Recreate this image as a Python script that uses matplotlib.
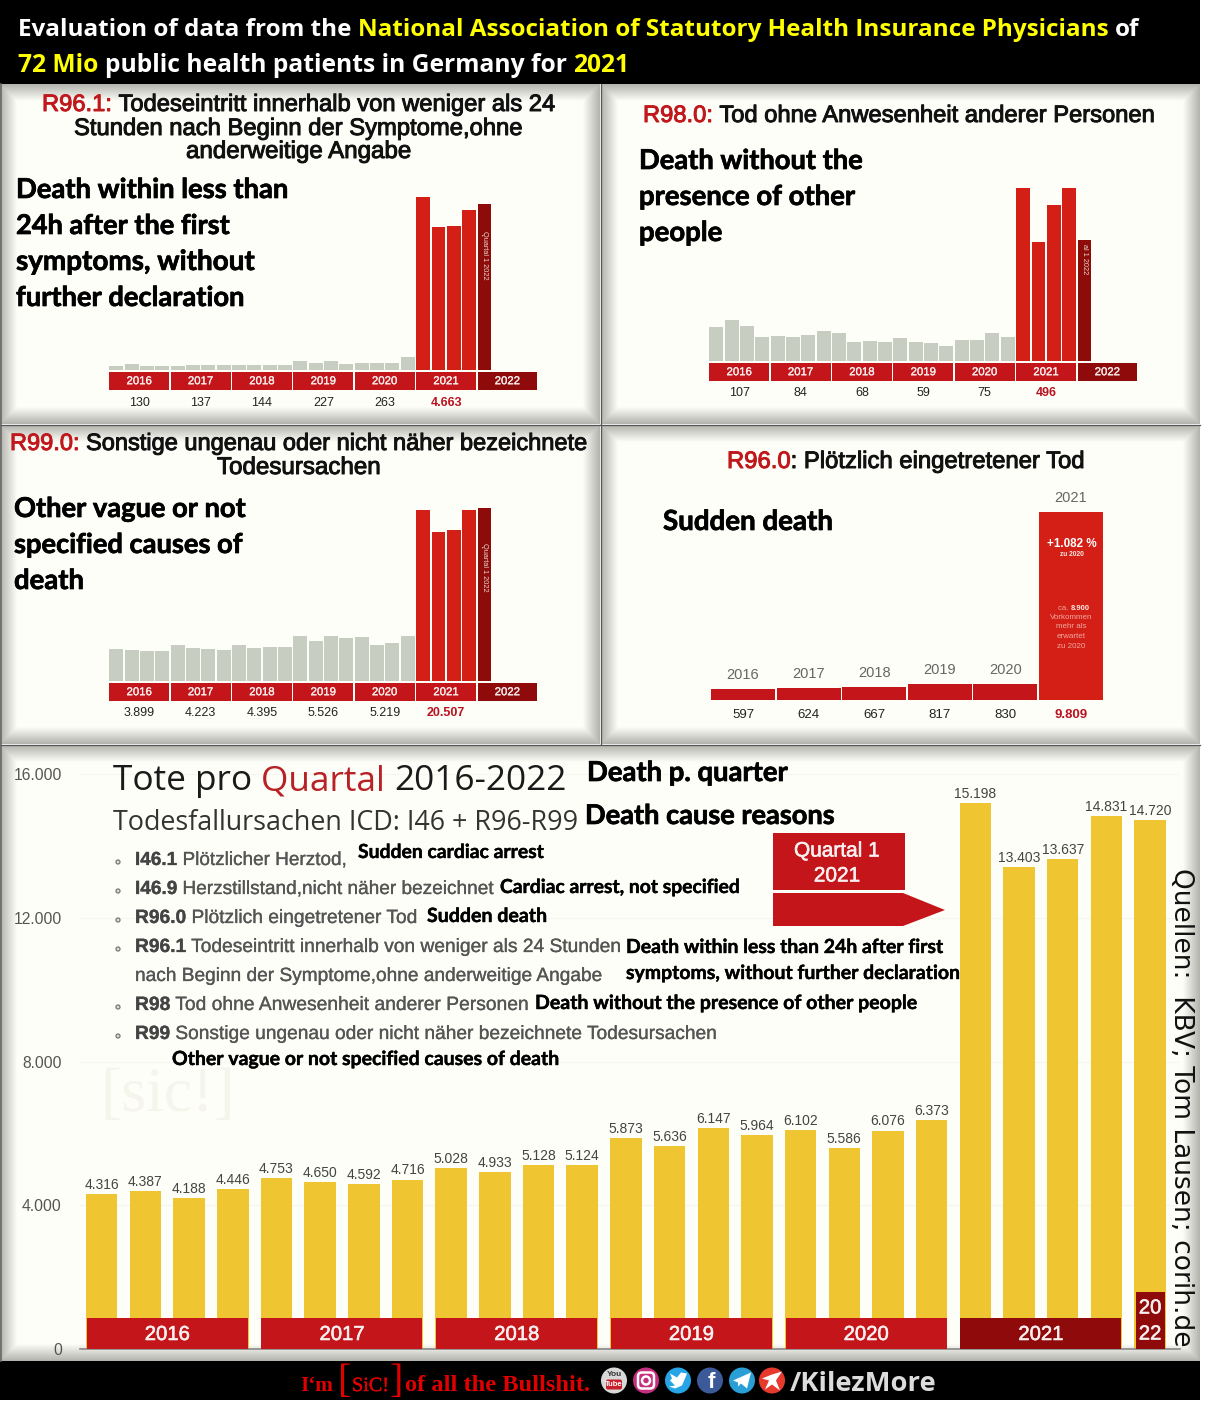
import matplotlib
matplotlib.use('Agg')
import matplotlib.pyplot as plt
from matplotlib.patches import Rectangle, Circle, Polygon, FancyBboxPatch
from matplotlib.ticker import FixedFormatter, FixedLocator
import matplotlib.patheffects as pe
import numpy as np

W, H = 1208, 1408

# quarterly bars of the small panels, yearly sums fit the labels
years = ['2016', '2017', '2018', '2019', '2020', '2021', '2022']

r961_q = [33, 42, 28, 27, 27, 40, 35, 35, 38, 35, 37, 34, 65, 50, 67, 45, 54, 55, 54, 100,
          1301, 1075, 1086, 1201, 1251]
r961_sum = ['130', '137', '144', '227', '263', '4.663']

r980_q = [27, 33, 28, 19, 20, 19, 21, 24, 22, 15, 16, 15, 18, 15, 14, 12, 17, 17, 22, 19,
          138, 95, 125, 138, 97]
r980_sum = ['107', '84', '68', '59', '75', '496']

r990_q = [1007, 986, 943, 963, 1145, 1060, 1030, 988, 1147, 1062, 1093, 1093,
          1437, 1276, 1446, 1367, 1400, 1150, 1225, 1444, 5462, 4760, 4824, 5461, 5504]
r990_sum = ['3.899', '4.223', '4.395', '5.526', '5.219', '20.507']

# R96.0 yearly
r960_years = ['2016', '2017', '2018', '2019', '2020', '2021']
r960_vals = [597, 624, 667, 817, 830, 9809]
r960_lab = ['597', '624', '667', '817', '830', '9.809']

# big chart
tote = [4316, 4387, 4188, 4446, 4753, 4650, 4592, 4716, 5028, 4933, 5128, 5124,
        5873, 5636, 6147, 5964, 6102, 5586, 6076, 6373, 15198, 13403, 13637, 14831, 14720]
tote_ticks = [0, 4000, 8000, 12000, 16000]
tote_ticklabels = ['0', '4.000', '8.000', '12.000', '16.000']

RED = '#c4161a'
DARK = '#8f0a0a'
BAR_RED = '#d41f16'
BAR_DARK = '#8d0b08'
GRAY = '#c8cdc2'
YEL = '#efc631'
BG = '#fdfef7'
SANS = 'Liberation Sans'
OPEN = 'Open Sans'
EN = 'Lato'

fig = plt.figure(figsize=(W / 100, H / 100), dpi=100, facecolor='white')
bg = fig.add_axes([0, 0, 1, 1], zorder=0)


def vignette(x0, y0, x1, y1, depth=17):
    w, h = int(x1 - x0), int(y1 - y0)
    xx, yy = np.meshgrid(np.arange(w) + .5, np.arange(h) + .5)
    d = np.minimum.reduce([xx, w - xx, yy, h - yy])
    t = np.clip(d / depth, 0, 1)[..., None]
    edge = np.array([0.70, 0.70, 0.68])
    inner = np.array(matplotlib.colors.to_rgb(BG))
    bg.imshow(edge * (1 - t) + inner * t, extent=(x0, x1, y1, y0), aspect='auto', interpolation='bilinear')


for box in [(0, 84, 600, 424), (601, 84, 1200, 424), (0, 425, 600, 744), (601, 425, 1200, 744), (0, 745, 1200, 1361)]:
    vignette(*box)
bg.add_patch(Rectangle((0, 0), 1200, 84, fc='black', lw=0))
bg.add_patch(Rectangle((0, 1361), 1200, 39, fc='black', lw=0))
# dark seams between the panels
bg.plot([600.5, 600.5], [84, 744], color='#555555', lw=.9)
bg.plot([0, 1200], [424.5, 424.5], color='#555555', lw=.9)
bg.plot([0, 1200], [744.5, 744.5], color='#555555', lw=.9)
bg.plot([0.5, 0.5], [84, 1361], color='#666666', lw=1.2)
bg.set_xlim(0, W)
bg.set_ylim(H, 0)
bg.axis('off')

# text goes in its own overlay so it sits on top of every bar axes
top = fig.add_axes([0, 0, 1, 1], zorder=10)
top.set_xlim(0, W)
top.set_ylim(H, 0)
top.axis('off')
top.patch.set_alpha(0)
rend = fig.canvas.get_renderer()


def put(x, y, parts, x1=None, size=16, family=SANS, weight='normal', stroke=0, ha='left'):
    """parts = [(text, color, weight)], baseline at y, scaled to end at x1 if given"""
    if isinstance(parts, str):
        parts = [(parts, 'black', weight)]
    made = []
    for s, c, wt in parts:
        t = top.text(x, y, s, color=c, fontsize=size, family=family, weight=wt, va='baseline', ha='left')
        if stroke:
            t.set_path_effects([pe.withStroke(linewidth=stroke, foreground=c)])
        made.append(t)
    def width():
        # trailing spaces do not measure, so a marker is added
        tot = []
        for t in made:
            s = t.get_text()
            t.set_text(s + '|')
            a = t.get_window_extent(rend).width
            t.set_text('|')
            b = t.get_window_extent(rend).width
            t.set_text(s)
            tot.append(a - b)
        return tot
    ws = width()
    if x1 is not None:
        k = (x1 - x) / sum(ws)
        for t in made:
            t.set_fontsize(size * k)
        ws = width()
    cx = x
    for t, w in zip(made, ws):
        t.set_x(cx)
        cx += w


def px_axes(x0, x1, ybot, ytop):
    a = fig.add_axes([x0 / W, 1 - ybot / H, (x1 - x0) / W, (ybot - ytop) / H], zorder=5)
    a.patch.set_alpha(0)
    return a


def small_panel(quarters, sums, x_off, base, tip, labnote, note_y):
    slot = 15.34
    left = 108.6 + x_off
    vpp = max(quarters) / (base - tip)
    ax = px_axes(left, left + 28 * slot, base + 24, base - 200)
    ax.set_xlim(-.5, 27.5)
    ax.set_ylim(-24 * vpp, 200 * vpp)
    ax.axis('off')
    cols = [GRAY] * 20 + [BAR_RED] * 4 + [BAR_DARK]
    ax.bar(range(len(quarters)), quarters, width=.9, color=cols, lw=0)
    for i, yr in enumerate(years):
        c = DARK if yr == '2022' else RED
        ax.bar(4 * i + 1.5, -17.5 * vpp, width=3.9, bottom=-2.2 * vpp, color=c, lw=0)
        t = ax.text(4 * i + 1.5, -11.2 * vpp, yr, color='#f6eeee', fontsize=8.2, family=SANS, ha='center', va='center')
        t.set_path_effects([pe.withStroke(linewidth=.2, foreground='#f6eeee')])
    for i, s in enumerate(sums):
        hot = i == 5
        ax.text(4 * i + 1.5, -32.5 * vpp, s, color='#bb1020' if hot else '#222222', fontsize=9, family=SANS,
                weight='bold' if hot else 'normal', ha='center', va='center', clip_on=False)
    ax.text(24, (base - note_y) * vpp, labnote, color='#e8d8d0', fontsize=5.3, family=SANS, rotation=-90,
            ha='center', va='center')


small_panel(r961_q, r961_sum, 0, 370, 197, 'Quartal 1 2022', 255)
small_panel(r980_q, r980_sum, 600, 361, 188.3, 'al 1 2022', 259)
small_panel(r990_q, r990_sum, 0, 681, 508.3, 'Quartal 1 2022', 567)

# R96.0
vpp = r960_vals[-1] / 188.0
a4 = px_axes(710.2, 1103.8, 700, 500)
a4.set_xlim(-.5, 5.5)
a4.set_ylim(0, 200 * vpp)
a4.axis('off')
a4.bar(range(6), r960_vals, width=.975, color=[RED] * 5 + [BAR_RED], lw=0)
for i, (yr, v, s) in enumerate(zip(r960_years, r960_vals, r960_lab)):
    a4.annotate(yr, (i, v), xytext=(0, 10), textcoords='offset points', ha='center', va='center',
                color='#666666', fontsize=10.5, family=SANS, annotation_clip=False)
    a4.text(i, -14.8 * vpp, s, color='#bb1020' if i == 5 else '#222222', fontsize=9.5, family=SANS,
            weight='bold' if i == 5 else 'normal', ha='center', va='center', clip_on=False)

# big chart
step = 43.68
big = px_axes(79.9, 1180, 1349, 774)
big.set_xlim(-.5, -.5 + 1100.1 / step)
big.set_ylim(0, 16000)
upp = 16000 / 575.0
big.bar(range(25), tote, width=31.5 / step, color=YEL, lw=0, zorder=2)
for i, v in enumerate(tote):
    big.annotate('{:.3f}'.format(v / 1000), (i, v), xytext=(0, 6.6), textcoords='offset points', ha='center',
                 va='center', color='#444444', fontsize=10, family=SANS)
for i, yr in enumerate(years[:6]):
    big.bar(4 * i + 1.5, 31.3 * upp, width=161 / step, color=DARK if yr == '2021' else RED, lw=0, zorder=3)
    t = big.text(4 * i + 1.5, 14.5 * upp, yr, color='#f8f0f0', fontsize=14.6, family=SANS, ha='center', va='center', zorder=4)
    t.set_path_effects([pe.withStroke(linewidth=.4, foreground='#f8f0f0')])
big.bar(24, 57.3 * upp, width=29 / step, color=DARK, lw=0, zorder=3)
for yy, s in [(41, '20'), (15, '22')]:
    t = big.text(24, yy * upp, s, color='#f8f0f0', fontsize=14.6, family=SANS, ha='center', va='center', zorder=4)
    t.set_path_effects([pe.withStroke(linewidth=.4, foreground='#f8f0f0')])
big.yaxis.set_major_locator(FixedLocator(tote_ticks))
big.yaxis.set_major_formatter(FixedFormatter(tote_ticklabels))
big.tick_params(axis='y', length=0, pad=13, labelsize=11.3, labelcolor='#555555')
big.tick_params(axis='x', bottom=False, labelbottom=False)
for lab in big.get_yticklabels():
    lab.set_family(SANS)
for sp in ['top', 'left', 'right']:
    big.spines[sp].set_visible(False)
big.spines['bottom'].set_color('#888888')
big.spines['bottom'].set_linewidth(1.2)
big.yaxis.grid(True, color='#f6f6ee', lw=.8, zorder=0)
big.set_axisbelow(True)

# header
Y = '#ffff00'
put(18, 36, [('Evaluation of data from the ', 'white', 'bold'),
             ('National Association of Statutory Health Insurance Physicians ', Y, 'bold'),
             ('of', 'white', 'bold')], x1=1140, size=18, family=OPEN)
put(18, 72, [('72 Mio ', Y, 'bold'), ('public health patients in Germany for ', 'white', 'bold'), ('2021', Y, 'bold')],
    x1=632, size=18, family=OPEN)

# panel titles
TR = '#c0181c'
ST = .7
put(42, 111, [('R96.1: ', TR, 'normal'), ('Todeseintritt innerhalb von weniger als 24', '#111111', 'normal')], x1=556, stroke=ST)
put(74, 135, [('Stunden nach Beginn der Symptome,ohne', '#111111', 'normal')], x1=523, stroke=ST)
put(186, 158, [('anderweitige Angabe', '#111111', 'normal')], x1=412, stroke=ST)
put(643, 122, [('R98.0: ', TR, 'normal'), ('Tod ohne Anwesenheit anderer Personen', '#111111', 'normal')], x1=1155, stroke=ST)
put(10, 450, [('R99.0: ', TR, 'normal'), ('Sonstige ungenau oder nicht näher bezeichnete', '#111111', 'normal')], x1=588, stroke=ST)
put(217, 474, [('Todesursachen', '#111111', 'normal')], x1=381, stroke=ST)
put(727, 468, [('R96.0', TR, 'normal'), (': Plötzlich eingetretener Tod', '#111111', 'normal')], x1=1085, stroke=ST)

# english overlays on the panels
for x, y, s, x1 in [(16, 198, 'Death within less than', 289), (16, 234, '24h after the first', 230),
                    (16, 270, 'symptoms, without', 255), (16, 306, 'further declaration', 245),
                    (639, 169, 'Death without the', 863), (639, 205, 'presence of other', 855),
                    (639, 241, 'people', 722),
                    (14, 517, 'Other vague or not', 246), (14, 553, 'specified causes of', 243), (14, 589, 'death', 84),
                    (663, 530, 'Sudden death', 833),
                    (587, 781, 'Death p. quarter', 788), (585, 824, 'Death cause reasons', 835)]:
    put(x, y, [(s, 'black', 'bold')], x1=x1, size=18, family=EN, stroke=.5)

# text inside the tall R96.0 bar
cx = 1071.5
top.text(cx, 544, '+1.082 %', color='white', fontsize=8.4, family=SANS, weight='bold', ha='center', va='center')
top.text(cx, 555, 'zu 2020', color='#f8e8e0', fontsize=4.8, family=SANS, weight='bold', ha='center', va='center')
put(1058, 610, [('ca. ', '#f0a8a0', 'normal'), ('8.900', '#fbe8e0', 'bold')], x1=1090, size=6)
for yy, s in zip([617.5, 627, 636.5, 646], ['Vorkommen', 'mehr als', 'erwartet', 'zu 2020']):
    top.text(cx, yy, s, color='#f0a8a0', fontsize=5.8, family=SANS, ha='center', va='center')

# big chart text block
DG = '#555555'
put(113, 790, [('Tote pro ', '#1a1a1a', 'normal'), ('Quartal ', '#b82226', 'normal'), ('2016-2022', '#1a1a1a', 'normal')],
    x1=568, size=26, family=OPEN)
put(113, 830, [('Todesfallursachen ICD: I46 + R96-R99', '#333333', 'normal')], x1=577, size=20, family=OPEN)

lines = [(865, 'I46.1', ' Plötzlicher Herztod,', 347), (894, 'I46.9', ' Herzstillstand,nicht näher bezeichnet', 495),
         (923, 'R96.0', ' Plötzlich eingetretener Tod', 418),
         (952, 'R96.1', ' Todeseintritt innerhalb von weniger als 24 Stunden', 622),
         (981, '', 'nach Beginn der Symptome,ohne anderweitige Angabe', 603),
         (1010, 'R98', ' Tod ohne Anwesenheit anderer Personen', 529),
         (1039, 'R99', ' Sonstige ungenau oder nicht näher bezeichnete Todesursachen', 718)]
for yy, code, rest, x1 in lines:
    put(135, yy, [(code, '#444444', 'bold'), (rest, DG, 'normal')], x1=x1, stroke=.2)
    if code:
        top.add_patch(Circle((118, yy - 3), 2.0, fc='#dddddd', ec='#777777', lw=.9))

for x, y, s, x1 in [(358, 858, 'Sudden cardiac arrest', 544), (500, 893, 'Cardiac arrest, not specified', 740),
                    (427, 922, 'Sudden death', 547), (626, 953, 'Death within less than 24h after first', 943),
                    (626, 979, 'symptoms, without further declaration', 960),
                    (535, 1009, 'Death without the presence of other people', 917),
                    (172, 1065, 'Other vague or not specified causes of death', 559)]:
    put(x, y, [(s, 'black', 'bold')], x1=x1, size=13, family=EN, stroke=.3)

# quartal arrow
top.add_patch(Rectangle((773, 833), 132, 57, fc=RED, lw=0))
top.add_patch(Polygon([(773, 893), (903, 893), (945, 910), (903, 926), (773, 926)], fc=RED, lw=0))
for yy, s in [(851, 'Quartal 1'), (876, '2021')]:
    t = top.text(837, yy, s, color='#f8f0f0', fontsize=15, family=SANS, ha='center', va='center')
    t.set_path_effects([pe.withStroke(linewidth=.4, foreground='#f8f0f0')])

# source + watermark
top.text(1181, 1107.5, 'Quellen:  KBV; Tom Lausen; corih.de', rotation=-90, color='#111111', fontsize=19,
         family='DejaVu Sans', ha='center', va='center')
top.text(168, 1096, '[sic!]', color='#f5f5ec', fontsize=46, family='Liberation Serif', ha='center', va='center', zorder=-1)

# footer
FR = '#e00000'
put(300, 1391, [('I‘m', FR, 'bold')], x1=333, size=18, family='Liberation Serif')
put(338, 1392, [('[', FR, 'normal')], size=29, family='Liberation Serif')
put(352, 1391, [('SiC!', FR, 'normal')], x1=389, size=18, family='Liberation Serif', stroke=.3)
put(390, 1392, [(']', FR, 'normal')], size=29, family='Liberation Serif')
put(405, 1391, [('of all the Bullshit.', FR, 'bold')], x1=589, size=18, family='Liberation Serif')
put(790, 1391, [('/KilezMore', '#dcdcdc', 'bold')], x1=937, size=20, family=OPEN)

iy = 1380.5
top.add_patch(Circle((614, iy), 13, fc='#d8d8d8', lw=0))
top.add_patch(FancyBboxPatch((606, iy - 1), 16, 10, boxstyle='round,pad=0,rounding_size=2', fc='#c8202a', lw=0))
top.text(614, iy - 6, 'You', color='#333333', fontsize=6, family=SANS, weight='bold', ha='center', va='center')
top.text(614, iy + 4, 'Tube', color='white', fontsize=5.5, family=SANS, weight='bold', ha='center', va='center')
top.add_patch(Circle((646, iy), 13, fc='#c62f7e', lw=0))
top.add_patch(FancyBboxPatch((638, iy - 8), 16, 16, boxstyle='round,pad=0,rounding_size=4', fc='none', ec='white', lw=1.8))
top.add_patch(Circle((646, iy), 4, fc='none', ec='white', lw=1.8))
top.add_patch(Circle((678, iy), 13, fc='#27a4e6', lw=0))
top.add_patch(Polygon([(669, iy + 6), (675, iy + 5), (670, iy), (672, iy - 2), (670, iy - 7), (677, iy - 3), (681, iy - 8),
                       (687, iy - 7), (685, iy - 2), (682, iy + 5), (675, iy + 8)], fc='white', lw=0))
top.add_patch(Circle((710, iy), 13, fc='#3d5a98', lw=0))
top.text(711, iy + 2, 'f', color='white', fontsize=16, family=SANS, weight='bold', ha='center', va='center')
top.add_patch(Circle((742, iy), 13, fc='#2a9fd6', lw=0))
top.add_patch(Polygon([(733, iy), (751, iy - 8), (747, iy + 8), (741, iy + 3), (738, iy + 6), (738, iy + 2)], fc='white', lw=0))
top.add_patch(Circle((772, iy), 13, fc='#e8392e', lw=0))
top.add_patch(Polygon([(762, iy - 2), (772, iy - 6), (782, iy - 9), (776, iy), (780, iy + 10), (772, iy + 4), (765, iy + 9), (769, iy)],
                      fc='white', lw=0))
top.set_xlim(0, W)
top.set_ylim(H, 0)

fig.savefig('out.png', dpi=100, facecolor='white')
